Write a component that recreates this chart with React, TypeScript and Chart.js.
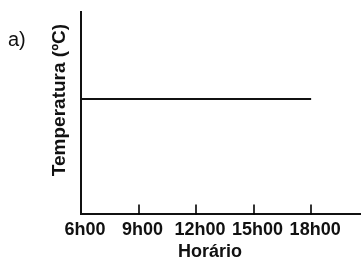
import React, { useEffect, useRef } from "react";
import { Chart, registerables } from "chart.js";

Chart.register(...registerables);

const hours = [6, 9, 12, 15, 18];
const hourLabels = ["6h00", "9h00", "12h00", "15h00", "18h00"];
const temperature = [5.7, 5.7, 5.7, 5.7, 5.7];
const panelLabel = "a)";
const xTitle = "Horário";
const yTitle = "Temperatura (ºC)";

const FONT = '"Liberation Sans", Arial, sans-serif';

const decorPlugin = {
  id: "decor",
  afterDraw(chart: any) {
    const ctx = chart.ctx;
    const xs = chart.scales.x;
    const area = chart.chartArea;
    ctx.save();
    // inward tick marks
    ctx.strokeStyle = "#000";
    ctx.lineWidth = 1.6;
    hours.forEach((h) => {
      if (h === hours[0]) return;
      const px = Math.round(xs.getPixelForValue(h));
      ctx.beginPath();
      ctx.moveTo(px, area.bottom);
      ctx.lineTo(px, area.bottom - 10);
      ctx.stroke();
    });
    ctx.fillStyle = "#111";
    // panel label
    ctx.font = `20px ${FONT}`;
    ctx.textAlign = "left";
    ctx.textBaseline = "middle";
    ctx.fillText(panelLabel, 8, 40);
    // x title
    ctx.font = `bold 18px ${FONT}`;
    ctx.textAlign = "center";
    ctx.fillText(xTitle, 210, 252);
    // y title
    ctx.font = `bold 19px ${FONT}`;
    ctx.translate(60, 100);
    ctx.rotate(-Math.PI / 2);
    ctx.fillText(yTitle, 0, 0);
    ctx.restore();
  },
};

export default function App() {
  const ref = useRef<HTMLCanvasElement>(null);
  useEffect(() => {
    if (!ref.current) return;
    const chart = new Chart(ref.current, {
      type: "line",
      data: {
        datasets: [
          {
            data: hours.map((h, i) => ({ x: h, y: temperature[i] })),
            borderColor: "#111",
            borderWidth: 2,
            pointRadius: 0,
            tension: 0,
          },
        ],
      },
      options: {
        animation: false,
        responsive: false,
        layout: { padding: { left: 81, top: 12, right: 0, bottom: 16 } },
        plugins: { legend: { display: false }, tooltip: { enabled: false } },
        scales: {
          x: {
            type: "linear",
            min: 6,
            max: 20.6,
            afterBuildTicks: (axis: any) => {
              axis.ticks = hours.map((v) => ({ value: v }));
            },
            grid: { display: false, drawTicks: false },
            border: { display: true, color: "#111", width: 2 },
            ticks: {
              padding: 5,
              labelOffset: 4,
              color: "#111",
              font: { family: FONT, size: 18, weight: "bold" },
              maxRotation: 0,
              autoSkip: false,
              callback: (v: any) => {
                const i = hours.indexOf(Number(v));
                return i >= 0 ? hourLabels[i] : "";
              },
            },
          },
          y: {
            min: 0,
            max: 10,
            grid: { display: false, drawTicks: false },
            border: { display: true, color: "#111", width: 2 },
            ticks: { display: false },
          },
        },
      },
      plugins: [decorPlugin],
    } as any);
    return () => chart.destroy();
  }, []);
  return (
    <div style={{ position: "absolute", left: 0, top: 0, width: 361, height: 262, background: "#fff" }}>
      <canvas ref={ref} width={361} height={262} style={{ width: 361, height: 262 }} />
    </div>
  );
}
